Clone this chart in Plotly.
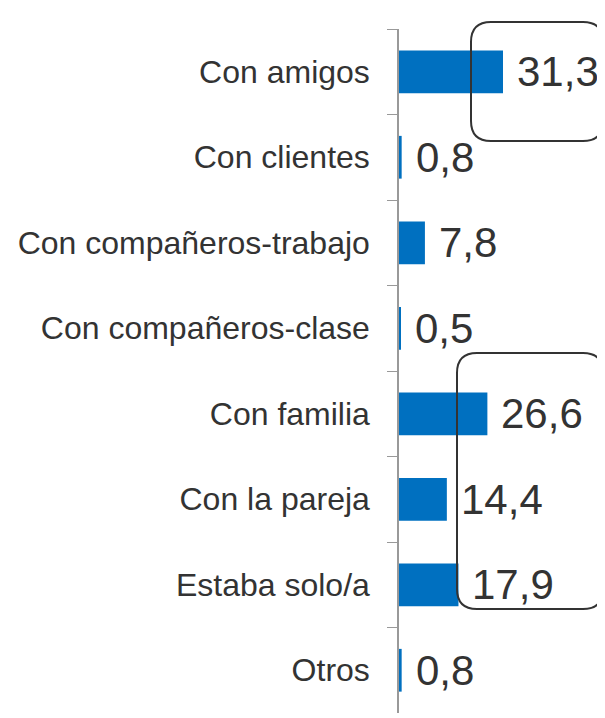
import plotly.graph_objects as go

categories = ["Con amigos", "Con clientes", "Con compañeros-trabajo", "Con compañeros-clase",
              "Con familia", "Con la pareja", "Estaba solo/a", "Otros"]
values = [31.3, 0.8, 7.8, 0.5, 26.6, 14.4, 17.9, 0.8]
labels = ["31,3", "0,8", "7,8", "0,5", "26,6", "14,4", "17,9", "0,8"]

OFF = 8  # page body margin
W, H = 605 - OFF, 718 - OFF
L, R, T, B = 399 - OFF, 0, 29 - OFF, 5
pw, ph = W - L - R, H - T - B

fig = go.Figure(go.Bar(
    x=values, y=categories, orientation="h",
    marker=dict(color="#0070C0", line=dict(width=0)),
    hoverinfo="skip",
))

for v, c, t in zip(values, categories, labels):
    fig.add_annotation(x=v, y=c, text=t, showarrow=False, xanchor="left",
                       xshift=12, font=dict(size=42, color="#333333",
                                            family="Liberation Sans, Arial"))


def rounded_box(x0, y0, x1, y1, r=20):
    # window pixel coords -> paper coords
    def px(x):
        return (x - OFF - L) / pw

    def py(y):
        return 1 - (y - OFF - T) / ph
    pts = [
        f"M {px(x0 + r)},{py(y0)}",
        f"L {px(x1 - r)},{py(y0)}",
        f"Q {px(x1)},{py(y0)} {px(x1)},{py(y0 + r)}",
        f"L {px(x1)},{py(y1 - r)}",
        f"Q {px(x1)},{py(y1)} {px(x1 - r)},{py(y1)}",
        f"L {px(x0 + r)},{py(y1)}",
        f"Q {px(x0)},{py(y1)} {px(x0)},{py(y1 - r)}",
        f"L {px(x0)},{py(y0 + r)}",
        f"Q {px(x0)},{py(y0)} {px(x0 + r)},{py(y0)}",
        "Z",
    ]
    return dict(type="path", xref="paper", yref="paper", path=" ".join(pts),
                line=dict(color="#333333", width=2), fillcolor="rgba(0,0,0,0)")


fig.update_layout(shapes=[rounded_box(471, 22, 603, 141),
                          rounded_box(457, 353, 603, 609)])

fig.update_layout(
    width=W, height=H,
    margin=dict(l=L, r=R, t=T, b=B),
    paper_bgcolor="white", plot_bgcolor="white",
    bargap=0.5, showlegend=False,
    font=dict(family="Liberation Sans, Arial", color="#333333"),
    xaxis=dict(range=[0, 62], visible=False),
    yaxis=dict(type="category", autorange="reversed", tickson="boundaries",
               ticks="outside", ticklen=10, tickcolor="#999999",
               showline=True, linecolor="#999999", linewidth=1.5,
               showgrid=False, ticklabelstandoff=21,
               tickfont=dict(size=32, color="#333333")),
)

fig.write_html("out.html")
